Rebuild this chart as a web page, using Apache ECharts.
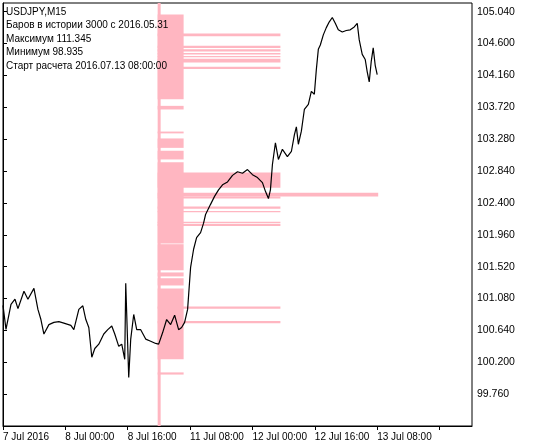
<!DOCTYPE html>
<html><head><meta charset="utf-8">
<script src="https://cdn.jsdelivr.net/npm/echarts@6/dist/echarts.min.js"></script>
<style>html,body{margin:0;padding:0;background:#fff}#c{width:535px;height:446px}</style>
</head><body><div id="c"></div>
<script>
var xLabels = ['7 Jul 2016','8 Jul 00:00','8 Jul 16:00','11 Jul 08:00','12 Jul 00:00','12 Jul 16:00','13 Jul 08:00'];
var yTicks = [99.76,100.20,100.64,101.08,101.52,101.96,102.40,102.84,103.28,103.72,104.16,104.60,105.04];
var barIdx = [0,3,8,12,15,21,25,31,35,38,41,46,51,56,61,68,71,76,80,83,86,89,92,96,101,105,109,112,116,119,122,123,126,128,131,134,138,143,148,153,156,160,164,168,172,176,179,182,185,188,191,194,198,201,203,208,212,216,220,225,230,235,240,245,250,255,260,263,266,268,270,273,276,280,285,289,292,294,296,299,302,306,309,312,314,316,318,321,324,327,330,333,336,340,344,348,352,355,357,360,363,365,367,369,371,373,375];
var prices = [100.985,100.654,101.0,101.07,100.94,101.18,101.07,101.22,100.93,100.79,100.59,100.72,100.75,100.76,100.74,100.71,100.65,100.93,100.98,100.79,100.68,100.27,100.39,100.45,100.59,100.65,100.70,100.59,100.42,100.45,100.24,101.29,99.99,100.52,100.86,100.65,100.65,100.52,100.49,100.46,100.45,100.61,100.79,100.72,100.85,100.65,100.68,100.75,100.93,101.51,101.76,101.92,101.99,102.12,102.24,102.38,102.49,102.58,102.65,102.69,102.78,102.83,102.81,102.86,102.79,102.75,102.68,102.56,102.46,102.58,102.93,103.23,103.0,103.14,103.04,103.11,103.34,103.45,103.21,103.39,103.69,103.76,103.94,103.90,104.24,104.52,104.58,104.72,104.82,104.90,104.96,104.88,104.79,104.76,104.78,104.79,104.83,104.88,104.65,104.45,104.38,104.21,104.07,104.35,104.54,104.30,104.17];
// histogram rows: [priceTop, priceBottom, lengthInBars]
var histTop = [105.16,105.0,103.74,103.385,103.29,103.12,102.96,101.83,101.44,101.36,101.22,100.06,104.74,104.57,104.52,104.47,104.43,104.39,104.28,102.82,102.49,102.35,102.29,102.14,102.11,100.97,100.77,102.54];
var histBot = [99.32,103.83,103.69,103.36,103.16,103.0,101.84,101.47,101.385,101.26,100.24,100.03,104.70,104.54,104.49,104.45,104.41,104.34,104.25,102.61,102.46,102.32,102.27,102.12,102.08,100.94,100.74,102.49];
var histLen = [3,26,26,26,26,26,26,26,26,26,26,26,123,123,123,123,123,123,123,123,123,123,123,123,123,123,123,221];
var histStart = 155;
var infoLines = ['USDJPY,M15','Баров в истории 3000 с 2016.05.31','Максимум 111.345','Минимум 98.935','Старт расчета 2016.07.13 08:00:00'];

var hist = histTop.map(function(t,i){return [t,histBot[i],histLen[i]];});
var line = barIdx.map(function(x,i){return [x,prices[i]];});
var font = '"Liberation Sans", Arial, sans-serif';
var chart = echarts.init(document.getElementById('c'));
chart.setOption({
  animation:false,
  grid:{left:2,right:63,top:3,bottom:20,show:true,borderColor:'#000',borderWidth:1},
  graphic:[{type:'text',left:6,top:5,z:100,style:{text:infoLines.join('\n'),font:'10px '+font,lineHeight:13.5,fill:'#000'}}],
  xAxis:{type:'value',min:0,max:470,interval:62.5,
    axisLine:{lineStyle:{color:'#000'}},splitLine:{show:false},
    axisTick:{show:true,length:4,lineStyle:{color:'#000'}},
    axisLabel:{color:'#000',fontSize:10,fontFamily:font,align:'left',margin:6,showMaxLabel:false,
      formatter:function(v){var i=Math.round(v/62.5);return xLabels[i]||'';}}},
  yAxis:{type:'value',position:'right',min:99.32,max:105.16,interval:0.44,
    axisLine:{show:true,lineStyle:{color:'#000'}},splitLine:{show:false},
    axisTick:{show:true,length:4,inside:false,lineStyle:{color:'#000'}},
    axisLabel:{color:'#000',fontSize:10.5,fontFamily:font,margin:5,showMinLabel:false,showMaxLabel:false,
      formatter:function(v){return v.toFixed(3);}}},
  series:[
    {type:'custom',data:hist,z:1,renderItem:function(params,api){
      var a=api.coord([histStart,api.value(0)]);var b=api.coord([histStart+api.value(2),api.value(1)]);
      return {type:'rect',shape:{x:a[0],y:a[1],width:b[0]-a[0],height:Math.max(1,b[1]-a[1])},style:{fill:'#ffb6c1'}};
    },encode:{x:2,y:[0,1]}},
    {type:'line',data:line,showSymbol:false,z:3,lineStyle:{color:'#000',width:1.2}}
  ]
});
</script></body></html>
